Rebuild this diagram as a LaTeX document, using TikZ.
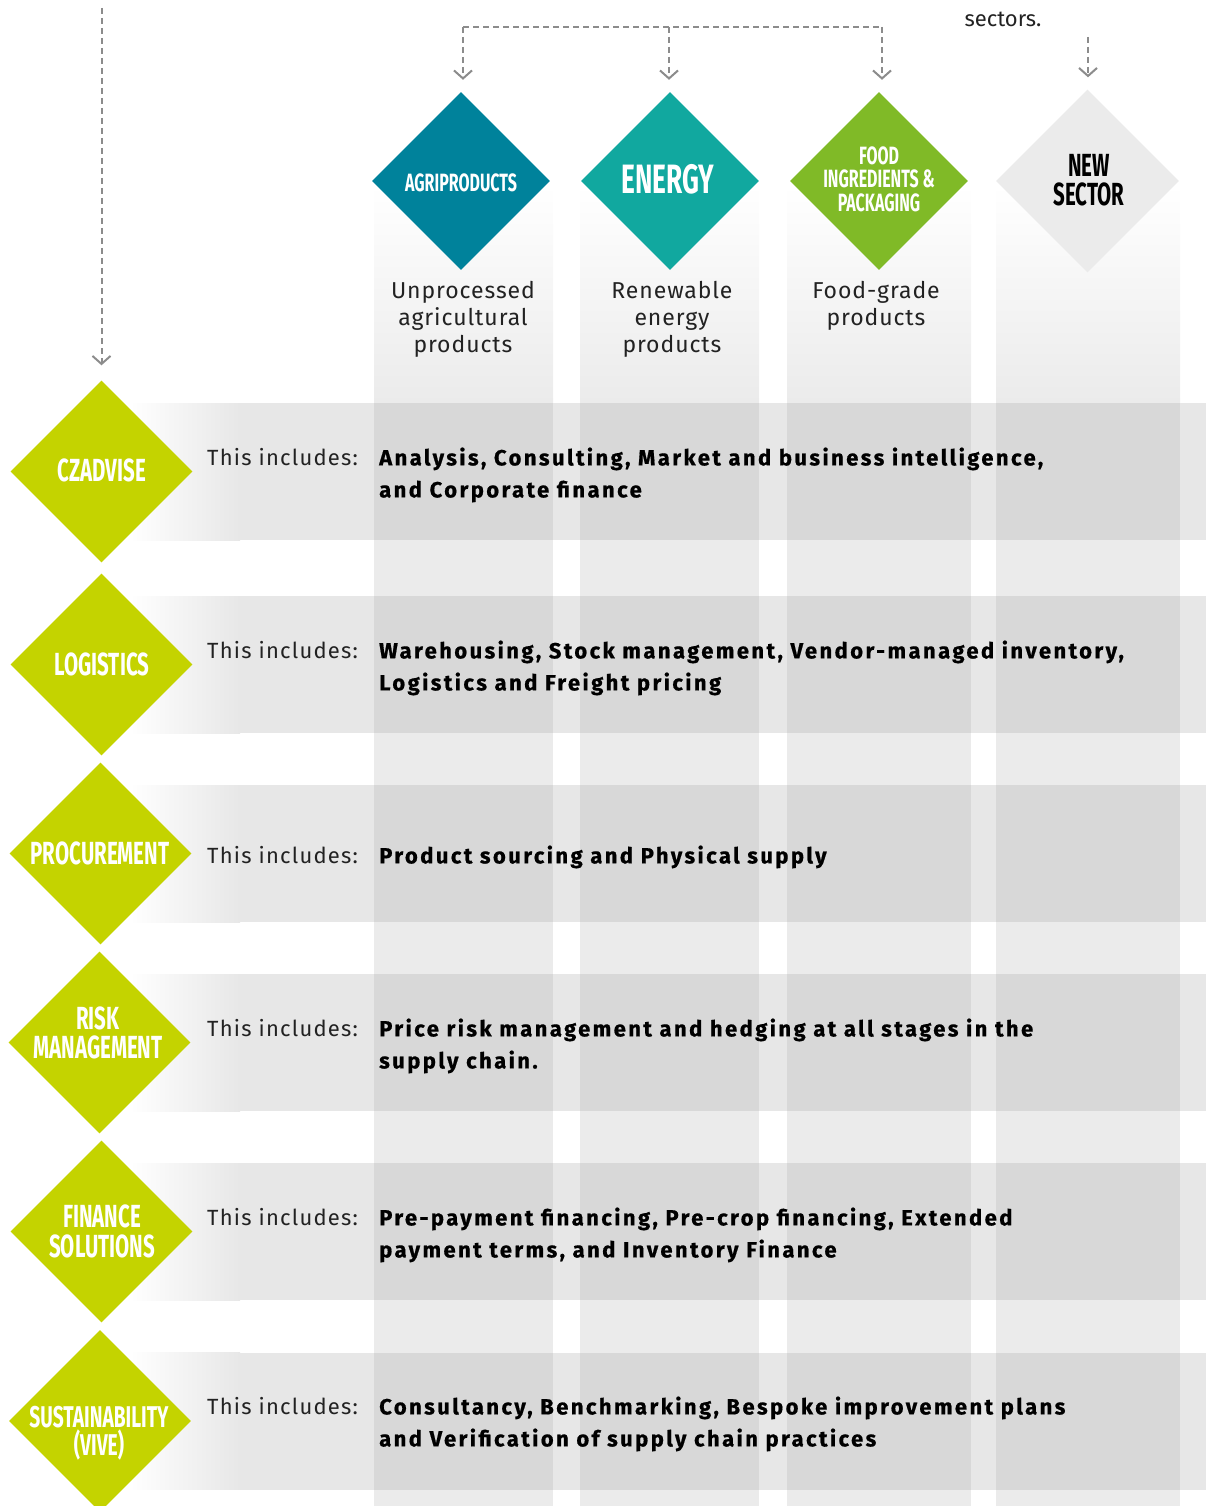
\documentclass[tikz,border=0pt]{standalone}
\usepackage{fontspec}
\setmainfont{Fira Sans}[LetterSpace=4, BoldFeatures={LetterSpace=11, FakeBold=0.7}]
\newfontfamily\condfont{Fira Sans}[FakeStretch=0.64]
\usetikzlibrary{shapes.geometric,arrows.meta}

\definecolor{agri}{HTML}{00829B}
\definecolor{energy}{HTML}{11A89F}
\definecolor{food}{HTML}{80BA27}
\definecolor{newsec}{HTML}{EBEBEB}
\definecolor{lime}{HTML}{C4D300}
\definecolor{colgray}{HTML}{EBEBEB}
\definecolor{rowgray}{HTML}{E7E7E7}
\definecolor{crossgray}{HTML}{D8D8D8}
\definecolor{arrowgray}{HTML}{8C8C8C}
\definecolor{txtdark}{HTML}{222222}

\tikzset{
  dashline/.style={draw=arrowgray, line width=2pt, dash pattern=on 6pt off 4pt},
  dasharrow/.style={dashline, -{Straight Barb[length=8pt,width=18pt]}, shorten >=12pt},
  sectordiam/.style={shape=diamond, minimum width=178pt, minimum height=178pt, inner sep=0pt, draw=none},
  servicediam/.style={shape=diamond, minimum width=182pt, minimum height=182pt, inner sep=0pt, draw=none, fill=lime},
  diamlabel/.style={inner sep=0pt, align=center, text=white, font=\condfont\bfseries},
  sectordesc/.style={inner sep=0pt, align=center, text=txtdark, anchor=north,
    font=\fontsize{23}{27}\selectfont},
  rowtext/.style={inner sep=0pt, anchor=west, text=black, font=\fontsize{22}{32}\selectfont},
}

\newcommand{\includesrow}[2]{%
  \begin{tabular}{@{}p{172pt}@{}l@{}}
  \textcolor{txtdark}{\addfontfeatures{LetterSpace=5.5}This includes:} & \bfseries #1\\
  & \bfseries #2
  \end{tabular}}

\begin{document}
\begin{tikzpicture}[x=1pt, y=-1pt]
\useasboundingbox (0,0) rectangle (1206,1506);

% sector columns: soft fade in from the top
\foreach \xa/\xb in {374/553, 580/759, 787/971, 996/1180} {
  \shade[top color=white, bottom color=colgray] (\xa,185) rectangle (\xb,403);
  \fill[colgray] (\xa,402.5) rectangle (\xb,1506);
}

% service rows, fading in from the left, darker where they cross a column
\foreach \yc in {471.5, 664.5, 853.5, 1042.5, 1231.5, 1421} {
  \shade[left color=white, right color=rowgray] (130,\yc-68.5) rectangle (240,\yc+68.5);
  \fill[rowgray] (239.5,\yc-68.5) rectangle (1206,\yc+68.5);
  \foreach \xa/\xb in {374/553, 580/759, 787/971, 996/1180}
    \fill[crossgray] (\xa,\yc-68.5) rectangle (\xb,\yc+68.5);
}

% sector diamonds
\node[sectordiam, fill=agri] (agri) at (461,181) {};
\node[sectordiam, fill=energy] (energy) at (670,181) {};
\node[sectordiam, fill=food] (food) at (879,181) {};
\node[sectordiam, fill=newsec, minimum width=183pt, minimum height=183pt] (newsector) at (1087.5,181) {};

\node[diamlabel, font=\condfont\bfseries\fontsize{25}{25}\selectfont] (agrilbl) at (461,183) {AGRIPRODUCTS};
\node[diamlabel, font=\condfont\bfseries\fontsize{41}{41}\selectfont] (energylbl) at (668,179) {ENERGY};
\node[diamlabel, font=\condfont\bfseries\fontsize{25}{23.5}\selectfont] (foodlbl) at (879,179) {FOOD\\INGREDIENTS \&\\PACKAGING};
\node[diamlabel, text=black, font=\condfont\bfseries\fontsize{32}{29}\selectfont] (newlbl) at (1089,180) {NEW\\SECTOR};

% sector descriptions
\node[sectordesc] (agridesc) at (463,281) {Unprocessed\\agricultural\\products};
\node[sectordesc] (energydesc) at (672,281) {Renewable\\energy\\products};
\node[sectordesc] (fooddesc) at (876,281) {Food-grade\\products};

% tail of the text above the last sector
\node[inner sep=0pt, text=txtdark, font=\fontsize{22}{26}\selectfont] (sectorsnote) at (1003,19) {\addfontfeatures{LetterSpace=0}sectors.};

% service diamonds
\node[servicediam] (czadvise) at (101.5,471.5) {};
\node[servicediam] (logistics) at (101.5,664.5) {};
\node[servicediam] (procurement) at (100.5,853.5) {};
\node[servicediam] (risk) at (99.5,1042.5) {};
\node[servicediam] (finance) at (101.5,1231.5) {};
\node[servicediam] (sustain) at (100,1421) {};

\node[diamlabel, font=\condfont\bfseries\fontsize{32}{29}\selectfont] at (102,470) {CZADVISE};
\node[diamlabel, font=\condfont\bfseries\fontsize{32}{29}\selectfont] at (102,664) {LOGISTICS};
\node[diamlabel, font=\condfont\bfseries\fontsize{32}{29}\selectfont] at (100,853) {PROCUREMENT};
\node[diamlabel, font=\condfont\bfseries\fontsize{32}{29}\selectfont] at (98,1033) {RISK\\MANAGEMENT};
\node[diamlabel, font=\condfont\bfseries\fontsize{32}{30}\selectfont] at (102,1231) {FINANCE\\SOLUTIONS};
\node[diamlabel, font=\condfont\bfseries\fontsize{30}{28}\selectfont] at (99,1433) {SUSTAINABILITY\\(VIVE)};

% what each service includes
\node[rowtext] (czadvisetxt) at (207,475) {\includesrow{Analysis, Consulting, Market and business intelligence,}{and Corporate finance}};
\node[rowtext] (logisticstxt) at (207,668) {\includesrow{Warehousing, Stock management, Vendor-managed inventory,}{Logistics and Freight pricing}};
\node[rowtext] (procurementtxt) at (207,857) {\begin{tabular}{@{}p{172pt}@{}l@{}}\textcolor{txtdark}{\addfontfeatures{LetterSpace=5.5}This includes:} & \bfseries Product sourcing and Physical supply\end{tabular}};
\node[rowtext] (risktxt) at (207,1046) {\includesrow{Price risk management and hedging at all stages in the}{supply chain.}};
\node[rowtext] (financetxt) at (207,1235) {\includesrow{Pre-payment financing, Pre-crop financing, Extended}{payment terms, and Inventory Finance}};
\node[rowtext] (sustaintxt) at (207,1424) {\includesrow{Consultancy, Benchmarking, Bespoke improvement plans}{and Verification of supply chain practices}};

% dashed connectors
\coordinate (bl) at (463,27);
\coordinate (bm) at (669,27);
\coordinate (br) at (882,27);
\coordinate (nstart) at (1088,37);
\coordinate (lstart) at (101.5,8);
\draw[dashline] (bl) -- (br);
\draw[dasharrow] (bl) -- (bl |- agri.north);
\draw[dasharrow] (bm) -- (bm |- energy.north);
\draw[dasharrow] (br) -- (br |- food.north);
\draw[dasharrow] (nstart) -- (nstart |- newsector.north);
\draw[dasharrow, shorten >=15pt] (lstart) -- (czadvise.north);
\end{tikzpicture}
\end{document}
